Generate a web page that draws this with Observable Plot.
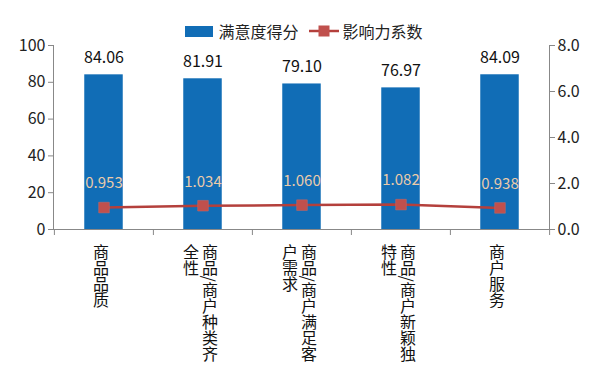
<!DOCTYPE html>
<html><head><meta charset="utf-8">
<script src="https://cdn.jsdelivr.net/npm/d3@7"></script>
<script src="https://cdn.jsdelivr.net/npm/@observablehq/plot@0.6"></script>
<style>
body{margin:0;background:#fff;font-family:"Noto Sans CJK SC",sans-serif;}
#wrap{position:relative;width:600px;height:375px;}
#legend{position:absolute;top:21px;left:4px;width:600px;display:flex;justify-content:center;align-items:center;font-size:16px;color:#222;line-height:20px;}
.sw{display:inline-block;width:28px;height:11px;background:#116DB6;margin-right:5px;}
.ln{margin-left:10px;margin-right:4px;}
</style></head>
<body><div id="wrap"><div id="legend"></div></div>
<script>
const categories = ["商品品质","商品/商户种类齐全性","商品/商户满足客户需求","商品/商户新颖独特性","商户服务"];
const scores = [84.06, 81.91, 79.10, 76.97, 84.09];
const influence = [0.953, 1.034, 1.060, 1.082, 0.938];
const leftTicks = [0, 20, 40, 60, 80, 100];
const rightTicks = [0, 2, 4, 6, 8];
const seriesNames = ["满意度得分", "影响力系数"];
const colWrap = 8;

const ratio = 100 / 8;
const data = categories.map((c, i) => ({cat: c, score: scores[i], inf: influence[i]}));
const W = 600, H = 375, ml = 53, mr = 51;
const bw = (W - ml - mr) / categories.length;
const font = '"Noto Sans CJK SC", sans-serif';

const legend = document.getElementById("legend");
legend.innerHTML = `<span class="sw"></span><span>${seriesNames[0]}</span>
<svg class="ln" width="30" height="12"><line x1="0" y1="6" x2="30" y2="6" stroke="#B4403C" stroke-width="2.5"/><rect x="9.5" y="0.5" width="11" height="11" fill="#C0504D"/></svg><span>${seriesNames[1]}</span>`;

const single = data.filter(d => d.cat.length <= colWrap);
const multi = data.filter(d => d.cat.length > colWrap);
const labelSet = new Set();
categories.forEach(c => { if (c.length <= colWrap) labelSet.add(c); else { labelSet.add(c.slice(0, colWrap)); labelSet.add(c.slice(colWrap)); } });

const chart = Plot.plot({
  width: W, height: H,
  marginLeft: ml, marginRight: mr, marginTop: 45, marginBottom: 146,
  style: {fontFamily: font, fontSize: "15px", color: "#222", background: "#fff", overflow: "visible"},
  x: {domain: categories, padding: 0, label: null},
  y: {domain: [0, 100], label: null},
  marks: [
    Plot.barY(data, {x: "cat", y: "score", fill: "#116DB6", insetLeft: bw * 0.305, insetRight: bw * 0.305}),
    Plot.text(data, {x: "cat", y: "score", text: d => d.score.toFixed(2), lineAnchor: "bottom", dy: -12, fontSize: 16, fill: "#111"}),
    Plot.line(data, {x: "cat", y: d => d.inf * ratio, stroke: "#B4403C", strokeWidth: 2.5}),
    Plot.dot(data, {x: "cat", y: d => d.inf * ratio, symbol: "square", r: 6, fill: "#C0504D", stroke: "#C86A66", strokeWidth: 0.5}),
    Plot.text(data, {x: "cat", y: d => d.inf * ratio, text: d => d.inf.toFixed(3), dy: -24, fontSize: 15, fill: "#EBCBAA"}),
    Plot.frame({anchor: "left", stroke: "#888"}),
    Plot.frame({anchor: "right", stroke: "#888"}),
    Plot.frame({anchor: "bottom", stroke: "#888"}),
    Plot.axisY(leftTicks, {anchor: "left", label: null, tickSize: 5, tickPadding: 3, fontSize: 16, stroke: "#888", fill: "#222"}),
    Plot.axisY(rightTicks.map(d => d * ratio), {anchor: "right", label: null, tickSize: 5, tickPadding: 3, fontSize: 16, tickFormat: d => (d / ratio).toFixed(1), stroke: "#888", fill: "#222"}),
    Plot.axisX({label: null, tickSize: 6, tickFormat: () => "", dx: -bw / 2, stroke: "#888"}),
    Plot.axisX([categories[categories.length - 1]], {label: null, tickSize: 6, tickFormat: () => "", dx: bw / 2, stroke: "#888"}),
    Plot.text(single, {x: "cat", y: 0, text: d => d.cat, textAnchor: "start", dy: 9, dx: -3, fontSize: 16, fill: "#111"}),
    Plot.text(multi, {x: "cat", y: 0, text: d => d.cat.slice(0, colWrap), textAnchor: "start", dy: 9, dx: 7, fontSize: 16, fill: "#111"}),
    Plot.text(multi, {x: "cat", y: 0, text: d => d.cat.slice(colWrap), textAnchor: "start", dy: 9, dx: -12, fontSize: 16, fill: "#111"})
  ]
});
d3.select(chart).selectAll("text").filter(function() { return labelSet.has(this.textContent); })
  .style("writing-mode", "vertical-rl");
document.getElementById("wrap").appendChild(chart);
</script>
</body></html>
